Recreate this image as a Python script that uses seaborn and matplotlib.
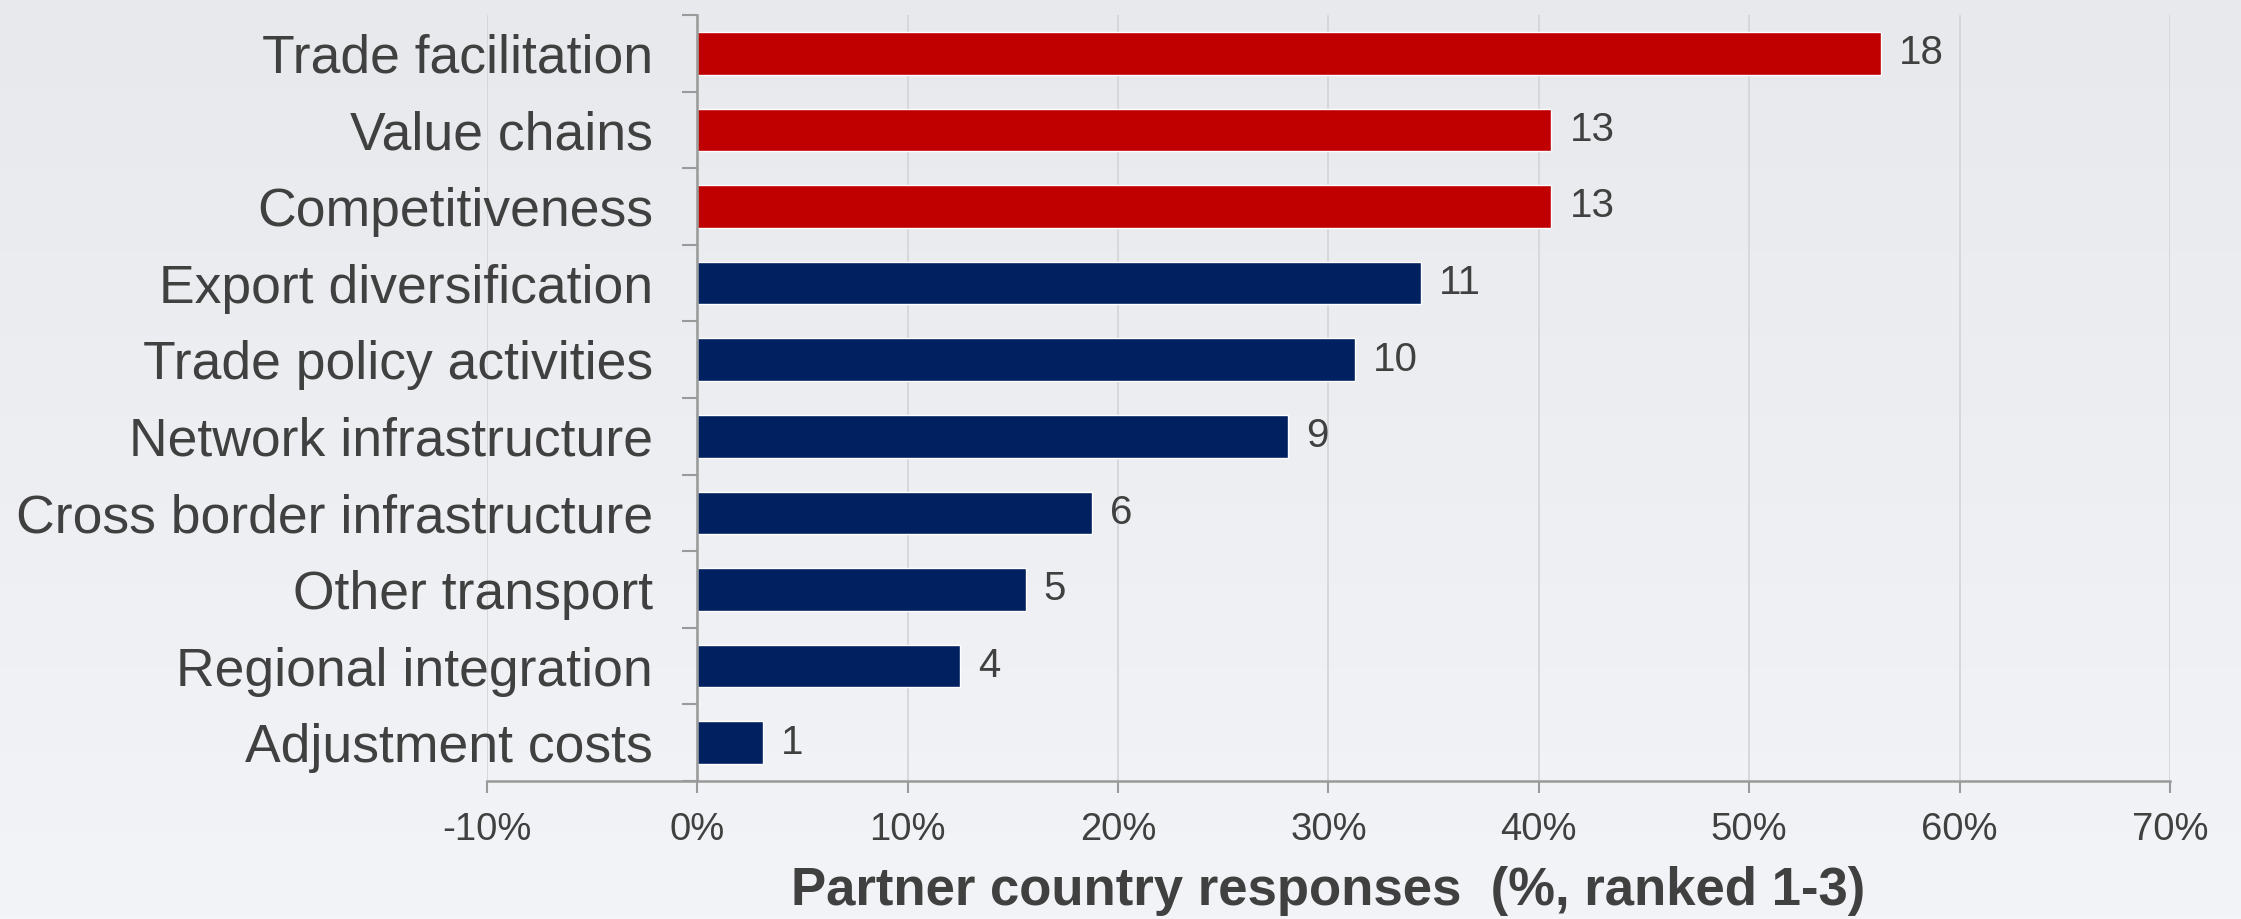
import numpy as np
import matplotlib
matplotlib.use("Agg")
import matplotlib.pyplot as plt
import seaborn as sns

# -------------------- DATA --------------------
topics = ["Trade facilitation", "Value chains", "Competitiveness",
          "Export diversification", "Trade policy activities",
          "Network infrastructure", "Cross border infrastructure",
          "Other transport", "Regional integration", "Adjustment costs"]
shares = [0.5625, 0.406, 0.406, 0.344, 0.3125, 0.281, 0.1875, 0.156, 0.125, 0.031]
counts = [18, 13, 13, 11, 10, 9, 6, 5, 4, 1]
groups = ["top", "top", "top", "rest", "rest", "rest", "rest", "rest", "rest", "rest"]
x_ticks = [-0.1, 0.0, 0.1, 0.2, 0.3, 0.4, 0.5, 0.6, 0.7]
x_tick_labels = ["-10%", "0%", "10%", "20%", "30%", "40%", "50%", "60%", "70%"]

group_colors = {"top": "#C00000", "rest": "#002060"}
palette = {t: group_colors[g] for t, g in zip(topics, groups)}

text_color = "#404040"
axis_color = "#9a9a9a"

# -------------------- STYLE --------------------
sns.set_style("white")
plt.rcParams['font.family'] = ['Liberation Sans', 'DejaVu Sans']

fig = plt.figure(figsize=(22.41, 9.19), dpi=100)

# soft grey gradient background
bg = fig.add_axes([0, 0, 1, 1], zorder=-10)
grad = np.linspace(0, 1, 256).reshape(-1, 1)
bg.imshow(grad, aspect='auto', extent=[0, 1, 0, 1],
          cmap=matplotlib.colors.LinearSegmentedColormap.from_list(
              "bg", ["#e7e9ec", "#f3f4f7"]))
bg.set_axis_off()

ax = fig.add_axes([0.2173, 0.1502, 0.7510, 0.8335])
ax.patch.set_alpha(0)

# -------------------- BARS --------------------
sns.barplot(x=shares, y=topics, hue=topics, palette=palette, orient='h',
            width=0.556, legend=False, saturation=1, ax=ax)

for container, n in zip(ax.containers, counts):
    ax.bar_label(container, labels=[str(n)], padding=13, fontsize=29,
                 color=text_color)

# -------------------- AXES --------------------
ax.set_xlim(-0.1, 0.7)
ax.set_ylim(9.5, -0.5)
ax.set_xticks(x_ticks)
ax.set_xticklabels(x_tick_labels)
ax.set_yticks(range(len(topics)))
ax.set_yticklabels(topics)
ax.set_yticks(np.arange(-0.5, len(topics), 1.0), minor=True)

ax.tick_params(axis='y', which='major', left=True, length=0, pad=32,
               labelsize=38.5, labelcolor=text_color)
ax.tick_params(axis='y', which='minor', left=True, length=10.5, width=1.5,
               color=axis_color, direction='out')
ax.tick_params(axis='x', which='major', bottom=True, length=8.5, width=1.5,
               color=axis_color, direction='out', pad=14,
               labelsize=27.5, labelcolor=text_color)

ax.set_axisbelow(True)
ax.xaxis.grid(True, color="#d4d6da", linewidth=1.3)
ax.yaxis.grid(False)

for side in ["top", "right"]:
    ax.spines[side].set_visible(False)
ax.spines["left"].set_position(("data", 0))
for side in ["left", "bottom"]:
    ax.spines[side].set_color(axis_color)
    ax.spines[side].set_linewidth(1.8)

ax.set_ylabel("")
ax.set_xlabel("Partner country responses  (%, ranked 1-3)", fontsize=38,
              fontweight='bold', color=text_color, labelpad=13)

plt.savefig("out.png", dpi=100)
